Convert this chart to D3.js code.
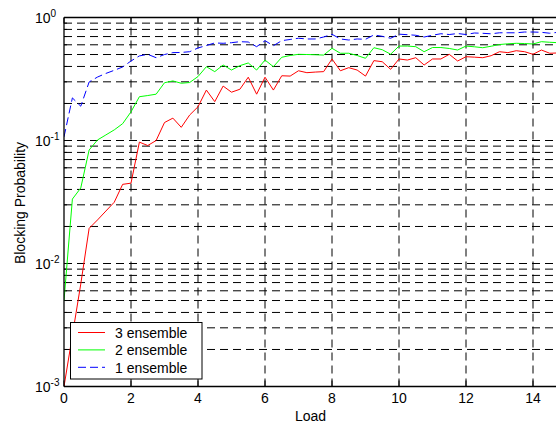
<!DOCTYPE html>
<html>
<head>
<meta charset="utf-8">
<script src="https://cdn.jsdelivr.net/npm/d3@7"></script>
<style>
  html, body { margin: 0; padding: 0; background: #fff; }
  svg { display: block; font-family: Arial, "Liberation Sans", sans-serif; }
</style>
</head>
<body>
<svg id="chart" width="556" height="423"></svg>
<script>
// values (load step 0.25)
const loads = [
  0, 0.25, 0.5, 0.75, 1, 1.25, 1.5, 1.75, 2, 2.25, 2.5, 2.75,
  3, 3.25, 3.5, 3.75, 4, 4.25, 4.5, 4.75, 5, 5.25, 5.5, 5.75,
  6, 6.25, 6.5, 6.75, 7, 7.25, 7.5, 7.75, 8, 8.25, 8.5, 8.75,
  9, 9.25, 9.5, 9.75, 10, 10.25, 10.5, 10.75, 11, 11.25, 11.5, 11.75,
  12, 12.25, 12.5, 12.75, 13, 13.25, 13.5, 13.75, 14, 14.25, 14.5, 14.75
];
const ens3 = [
  0.001, 0.0026, 0.0068, 0.0193, 0.0226, 0.0267, 0.0315, 0.044, 0.045, 0.097, 0.091, 0.1,
  0.14, 0.152, 0.128, 0.161, 0.188, 0.257, 0.207, 0.277, 0.247, 0.261, 0.327, 0.238,
  0.327, 0.257, 0.336, 0.334, 0.369, 0.356, 0.36, 0.363, 0.46, 0.369, 0.391, 0.374,
  0.334, 0.446, 0.437, 0.379, 0.46, 0.451, 0.471, 0.411, 0.46, 0.46, 0.502, 0.443,
  0.48, 0.476, 0.471, 0.489, 0.527, 0.518, 0.537, 0.527, 0.502, 0.544, 0.512, 0.515
];
const ens2 = [
  0.005, 0.0334, 0.0411, 0.0837, 0.101, 0.111, 0.122, 0.137, 0.171, 0.227, 0.232, 0.238,
  0.295, 0.305, 0.292, 0.296, 0.331, 0.398, 0.363, 0.411, 0.374, 0.406, 0.427, 0.374,
  0.451, 0.398, 0.475, 0.491, 0.502, 0.5, 0.498, 0.495, 0.562, 0.512, 0.512, 0.491,
  0.466, 0.568, 0.547, 0.503, 0.586, 0.586, 0.579, 0.527, 0.57, 0.57, 0.56, 0.544,
  0.586, 0.578, 0.568, 0.584, 0.603, 0.611, 0.617, 0.614, 0.609, 0.636, 0.629, 0.624
];
const ens1 = [
  0.107, 0.222, 0.19, 0.299, 0.328, 0.351, 0.372, 0.396, 0.443, 0.487, 0.502, 0.471,
  0.5, 0.518, 0.52, 0.527, 0.565, 0.592, 0.621, 0.617, 0.624, 0.636, 0.632, 0.579,
  0.648, 0.59, 0.648, 0.663, 0.678, 0.669, 0.669, 0.694, 0.73, 0.669, 0.656, 0.669,
  0.665, 0.721, 0.703, 0.678, 0.732, 0.725, 0.717, 0.694, 0.717, 0.738, 0.727, 0.741,
  0.727, 0.748, 0.744, 0.737, 0.751, 0.751, 0.751, 0.762, 0.762, 0.758, 0.745, 0.758
];
const seriesNames = ["3 ensemble", "2 ensemble", "1 ensemble"];
const xTicks = [0, 2, 4, 6, 8, 10, 12, 14];
const yExponents = [-3, -2, -1, 0];

(function () {
  const svg = d3.select("#chart");
  const W = 556, H = 423;
  const plotLeft = 64, plotTop = 17.5, plotBottom = 386.5;

  // the figure is cropped on the right, so the axis runs past the window edge
  const x = d3.scaleLinear().domain([0, 16]).range([plotLeft, plotLeft + 16 * 33.5]);
  const y = d3.scaleLog().domain([1e-3, 1]).range([plotBottom, plotTop]);
  const plotRight = x.range()[1];

  svg.append("rect").attr("width", W).attr("height", H).attr("fill", "#fff");

  svg.append("defs").append("clipPath").attr("id", "plot-clip")
    .append("rect")
    .attr("x", plotLeft).attr("y", plotTop)
    .attr("width", plotRight - plotLeft).attr("height", plotBottom - plotTop);

  // --- grid ---
  const grid = svg.append("g")
    .attr("stroke", "#000")
    .attr("stroke-width", 1)
    .attr("stroke-dasharray", "8,5")
    .attr("fill", "none");

  const yGridVals = y.ticks().filter((v) => v > 1e-3 && v < 1);
  grid.selectAll("line.hg")
    .data(yGridVals)
    .enter()
    .append("line")
    .attr("class", "hg")
    .attr("x1", plotLeft).attr("x2", plotRight)
    .attr("y1", (d) => y(d)).attr("y2", (d) => y(d));

  grid.selectAll("line.vg")
    .data(xTicks.filter((d) => d > 0))
    .enter()
    .append("line")
    .attr("class", "vg")
    .attr("x1", (d) => x(d)).attr("x2", (d) => x(d))
    .attr("y1", plotBottom).attr("y2", plotTop);

  // --- tick marks ---
  const ticks = svg.append("g").attr("stroke", "#000").attr("stroke-width", 1);
  ticks.selectAll("line.yt")
    .data(y.ticks())
    .enter()
    .append("line")
    .attr("class", "yt")
    .attr("x1", plotLeft)
    .attr("x2", (d) => plotLeft + (Number.isInteger(Math.round(Math.log10(d) * 1e6) / 1e6) ? 6 : 3))
    .attr("y1", (d) => y(d)).attr("y2", (d) => y(d));

  ticks.selectAll("line.xt")
    .data(xTicks)
    .enter()
    .append("line")
    .attr("class", "xt")
    .attr("x1", (d) => x(d)).attr("x2", (d) => x(d))
    .attr("y1", plotBottom).attr("y2", plotBottom - 6);

  ticks.selectAll("line.xtt")
    .data(xTicks)
    .enter()
    .append("line")
    .attr("class", "xtt")
    .attr("x1", (d) => x(d)).attr("x2", (d) => x(d))
    .attr("y1", plotTop).attr("y2", plotTop + 6);

  // --- series ---
  const series = [
    { name: seriesNames[0], values: ens3, color: "#ff0000", dash: null },
    { name: seriesNames[1], values: ens2, color: "#00ff00", dash: null },
    { name: seriesNames[2], values: ens1, color: "#0000ff", dash: "8,4" },
  ];

  const line = d3.line()
    .x((d) => x(d[0]))
    .y((d) => y(d[1]));

  svg.append("g")
    .attr("clip-path", "url(#plot-clip)")
    .selectAll("path")
    .data(series)
    .enter()
    .append("path")
    .attr("fill", "none")
    .attr("stroke", (d) => d.color)
    .attr("stroke-width", 1)
    .attr("stroke-dasharray", (d) => d.dash)
    .attr("d", (d) => line(loads.map((l, i) => [l, d.values[i]])));

  // --- axes box ---
  const axes = svg.append("g").attr("stroke", "#000").attr("stroke-width", 1.3);
  axes.append("line").attr("x1", plotLeft).attr("x2", plotLeft).attr("y1", plotTop).attr("y2", plotBottom);
  axes.append("line").attr("x1", plotLeft).attr("x2", plotRight).attr("y1", plotBottom).attr("y2", plotBottom);
  axes.append("line").attr("x1", plotLeft).attr("x2", plotRight).attr("y1", plotTop).attr("y2", plotTop);

  // --- tick labels ---
  svg.append("g")
    .attr("font-size", 14)
    .attr("text-anchor", "middle")
    .selectAll("text")
    .data(xTicks)
    .enter()
    .append("text")
    .attr("x", (d) => x(d))
    .attr("y", 402.5)
    .text((d) => d);

  const yLabels = svg.append("g")
    .selectAll("text")
    .data(yExponents)
    .enter()
    .append("text")
    .attr("x", 35)
    .attr("y", (d) => y(Math.pow(10, d)) + 5.5)
    .attr("font-size", 14);
  yLabels.append("tspan").text("10");
  yLabels.append("tspan")
    .attr("font-size", 10)
    .attr("dy", -6.5)
    .text((d) => (d < 0 ? "-" + -d : d));

  // --- axis titles ---
  svg.append("text")
    .attr("x", 310.5)
    .attr("y", 421)
    .attr("font-size", 14)
    .attr("text-anchor", "middle")
    .text("Load");

  svg.append("text")
    .attr("transform", "translate(24.5,203) rotate(-90)")
    .attr("font-size", 14)
    .attr("text-anchor", "middle")
    .text("Blocking Probability");

  // --- legend ---
  const legend = svg.append("g");
  legend.append("rect")
    .attr("x", 70.5).attr("y", 322.5)
    .attr("width", 131.5).attr("height", 56.5)
    .attr("fill", "#fff")
    .attr("stroke", "#000")
    .attr("stroke-width", 1);

  const rows = legend.selectAll("g.row")
    .data(series)
    .enter()
    .append("g")
    .attr("class", "row")
    .attr("transform", (d, i) => `translate(0,${332.5 + i * 17.4})`);

  rows.append("line")
    .attr("x1", 78).attr("x2", 105)
    .attr("stroke", (d) => d.color)
    .attr("stroke-width", 1)
    .attr("stroke-dasharray", (d) => d.dash);

  rows.append("text")
    .attr("x", 115)
    .attr("y", 5.5)
    .attr("font-size", 14)
    .text((d) => d.name);
})();
</script>
</body>
</html>
